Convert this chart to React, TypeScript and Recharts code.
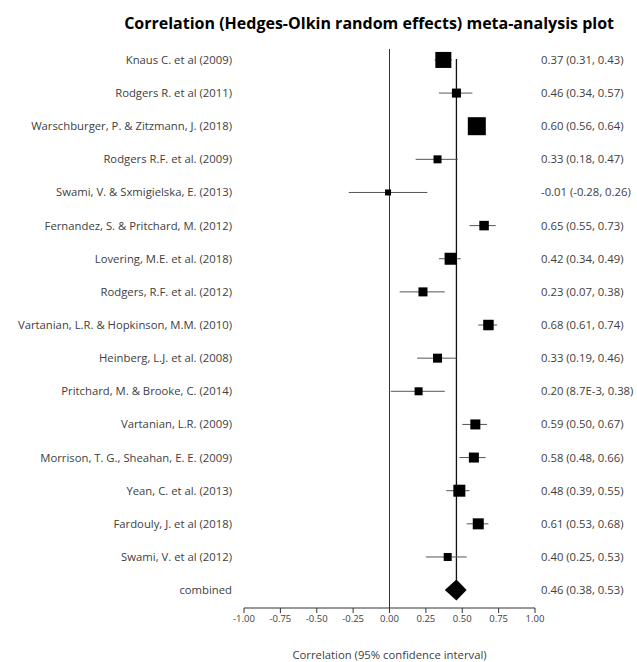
import { ScatterChart, Scatter, XAxis, YAxis, ErrorBar, ReferenceLine, Label } from 'recharts';

const studies = [
  'Knaus C. et al (2009)',
  'Rodgers R. et al (2011)',
  'Warschburger, P. & Zitzmann, J. (2018)',
  'Rodgers R.F. et al. (2009)',
  'Swami, V. & Sxmigielska, E. (2013)',
  'Fernandez, S. & Pritchard, M. (2012)',
  'Lovering, M.E. et al. (2018)',
  'Rodgers, R.F. et al. (2012)',
  'Vartanian, L.R. & Hopkinson, M.M. (2010)',
  'Heinberg, L.J. et al. (2008)',
  'Pritchard, M. & Brooke, C. (2014)',
  'Vartanian, L.R. (2009)',
  'Morrison, T. G., Sheahan, E. E. (2009)',
  'Yean, C. et al. (2013)',
  'Fardouly, J. et al (2018)',
  'Swami, V. et al (2012)',
  'combined',
];

const estimates = [0.37, 0.46, 0.60, 0.33, -0.01, 0.65, 0.42, 0.23, 0.68, 0.33, 0.20, 0.59, 0.58, 0.48, 0.61, 0.40, 0.46];
const lowers = [0.31, 0.34, 0.56, 0.18, -0.28, 0.55, 0.34, 0.07, 0.61, 0.19, 0.0087, 0.50, 0.48, 0.39, 0.53, 0.25, 0.38];
const uppers = [0.43, 0.57, 0.64, 0.47, 0.26, 0.73, 0.49, 0.38, 0.74, 0.46, 0.38, 0.67, 0.66, 0.55, 0.68, 0.53, 0.53];
// relative study weights (box side grows with weight)
const weights = [16, 9, 18, 8, 6, 9.5, 12, 9, 10.5, 9, 8, 10, 10, 12, 11, 8, 0];

const estimateLabels = [
  '0.37 (0.31, 0.43)',
  '0.46 (0.34, 0.57)',
  '0.60 (0.56, 0.64)',
  '0.33 (0.18, 0.47)',
  '-0.01 (-0.28, 0.26)',
  '0.65 (0.55, 0.73)',
  '0.42 (0.34, 0.49)',
  '0.23 (0.07, 0.38)',
  '0.68 (0.61, 0.74)',
  '0.33 (0.19, 0.46)',
  '0.20 (8.7E-3, 0.38)',
  '0.59 (0.50, 0.67)',
  '0.58 (0.48, 0.66)',
  '0.48 (0.39, 0.55)',
  '0.61 (0.53, 0.68)',
  '0.40 (0.25, 0.53)',
  '0.46 (0.38, 0.53)',
];

const xTicks = [-1, -0.75, -0.5, -0.25, 0, 0.25, 0.5, 0.75, 1];

const WIDTH = 637;
const HEIGHT = 662;
const LEFT_W = 244;
const RIGHT_W = 102;
const X_MIN = -1;
const X_MAX = 1;
const PX_PER_UNIT = (WIDTH - LEFT_W - RIGHT_W) / (X_MAX - X_MIN);

const FONT = '"Open Sans", sans-serif';
const LABEL_SIZE = 11.3;

const rows = studies.map((name, i) => ({
  row: i + 1,
  name,
  est: estimates[i],
  lo: lowers[i],
  hi: uppers[i],
  w: weights[i],
  err: [estimates[i] - lowers[i], uppers[i] - estimates[i]],
}));

const studyRows = rows.slice(0, rows.length - 1);
const pooledRows = rows.slice(rows.length - 1);
const pooled = pooledRows[0];

const BoxShape = (props: any) => {
  const { cx, cy, payload } = props;
  const s = payload.w;
  return <rect x={cx - s / 2} y={cy - s / 2} width={s} height={s} fill="#000" />;
};

const DiamondShape = (props: any) => {
  const { cx, cy, payload } = props;
  const left = cx - (payload.est - payload.lo) * PX_PER_UNIT;
  const right = cx + (payload.hi - payload.est) * PX_PER_UNIT;
  const h = 10.5;
  return <polygon points={`${left},${cy} ${cx},${cy - h} ${right},${cy} ${cx},${cy + h}`} fill="#000" />;
};

const LeftTick = (props: any) => {
  const { x, y, payload } = props;
  return (
    <text x={x} y={y} dy={4} textAnchor="end" fontFamily={FONT} fontSize={LABEL_SIZE} fill="#404040">
      {studies[payload.value - 1]}
    </text>
  );
};

const RightTick = (props: any) => {
  const { x, y, payload } = props;
  return (
    <text x={x} y={y} dy={4} textAnchor="start" fontFamily={FONT} fontSize={LABEL_SIZE} fill="#404040">
      {estimateLabels[payload.value - 1]}
    </text>
  );
};

const rowTicks = studies.map((_, i) => i + 1);

export default function App() {
  return (
    <div style={{ position: 'absolute', left: 0, top: 0, width: WIDTH, height: HEIGHT, background: '#fff' }}>
      <div
        style={{
          position: 'absolute',
          left: 0,
          top: 12,
          width: 614,
          textAlign: 'right',
          fontFamily: FONT,
          fontWeight: 700,
          fontSize: 16,
          lineHeight: '22px',
          color: '#000',
        }}
      >
        Correlation (Hedges-Olkin random effects) meta-analysis plot
      </div>
      <ScatterChart width={WIDTH} height={HEIGHT} margin={{ top: 49, right: 0, bottom: 0, left: 0 }}>
        <XAxis
          type="number"
          dataKey="est"
          domain={[X_MIN, X_MAX]}
          ticks={xTicks}
          allowDataOverflow
          interval={0}
          height={54}
          tickFormatter={(v: number) => v.toFixed(2)}
          stroke="#333"
          tickSize={5}
          tickMargin={2}
          tick={{ fontFamily: FONT, fontSize: 9.5, fill: '#404040' }}
        >
          <Label
            value="Correlation (95% confidence interval)"
            position="insideBottom"
            offset={3}
            style={{ fontFamily: FONT, fontSize: LABEL_SIZE, fill: '#404040' }}
          />
        </XAxis>
        <YAxis
          yAxisId="left"
          type="number"
          dataKey="row"
          domain={[0.67, 17.54]}
          reversed
          allowDataOverflow
          ticks={rowTicks}
          interval={0}
          width={LEFT_W}
          axisLine={false}
          tickLine={false}
          tickSize={0}
          tickMargin={12}
          tick={<LeftTick />}
        />
        <YAxis
          yAxisId="right"
          orientation="right"
          type="number"
          dataKey="row"
          domain={[0.67, 17.54]}
          reversed
          allowDataOverflow
          ticks={rowTicks}
          interval={0}
          width={RIGHT_W}
          axisLine={false}
          tickLine={false}
          tickSize={0}
          tickMargin={6}
          tick={<RightTick />}
        />
        <ReferenceLine yAxisId="left" x={0} stroke="#333" strokeWidth={1} />
        <ReferenceLine
          yAxisId="left"
          segment={[
            { x: pooled.est, y: 0.97 },
            { x: pooled.est, y: pooled.row },
          ]}
          stroke="#111"
          strokeWidth={1.3}
        />
        <Scatter yAxisId="left" data={studyRows} dataKey="est" shape={<BoxShape />} isAnimationActive={false}>
          <ErrorBar dataKey="err" direction="x" width={0} stroke="#555" strokeWidth={1} />
        </Scatter>
        <Scatter yAxisId="right" data={pooledRows} dataKey="est" shape={<DiamondShape />} isAnimationActive={false} />
      </ScatterChart>
    </div>
  );
}
